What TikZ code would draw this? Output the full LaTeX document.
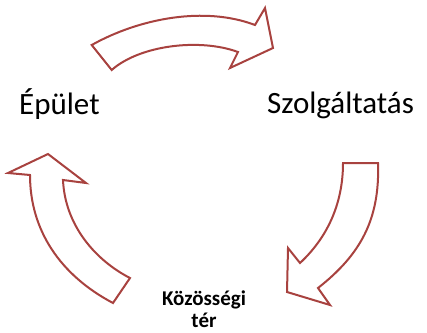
\documentclass[tikz,border=0pt]{standalone}
\usepackage{fontspec}
\setmainfont{Carlito}
\definecolor{arrowred}{HTML}{A8423F}
\tikzset{
  cyclearrow/.style={draw=arrowred, line width=2pt, fill=white, line join=miter},
  biglabel/.style={font=\fontsize{31}{34}\selectfont, anchor=base west, inner sep=0pt},
  smalllabel/.style={font=\bfseries\fontsize{21}{22}\selectfont, align=center, inner sep=0pt}
}
\begin{document}
\begin{tikzpicture}[x=1pt,y=-1pt]
\useasboundingbox (0,0) rectangle (427,332);
% top arrow
\draw[cyclearrow] (91.7,45) .. controls (140,18) and (205,6) .. (255,25)
  -- (265,8) -- (273,48) -- (230,68) -- (238,52)
  .. controls (200,38) and (140,45) .. (111.7,70) -- cycle;
% right arrow
\draw[cyclearrow] (343,163) -- (378,163)
  .. controls (380,220) and (360,255) .. (318,288)
  -- (330,305) -- (287,292) -- (288,248) -- (300,263)
  .. controls (330,235) and (343,200) .. (343,163) -- cycle;
% left arrow
\draw[cyclearrow] (113,303) .. controls (60,275) and (30,230) .. (30,175)
  -- (8,173) -- (48,154) -- (86,183) -- (63,180)
  .. controls (65,225) and (95,260) .. (130,278) -- cycle;
% labels
\node[biglabel] (epulet) at (19,114) {Épület};
\node[biglabel] (szolg) at (267,113) {Szolgáltatás};
\node[smalllabel, anchor=base] (kozos) at (204,327) {Közösségi\\tér};
\end{tikzpicture}
\end{document}
